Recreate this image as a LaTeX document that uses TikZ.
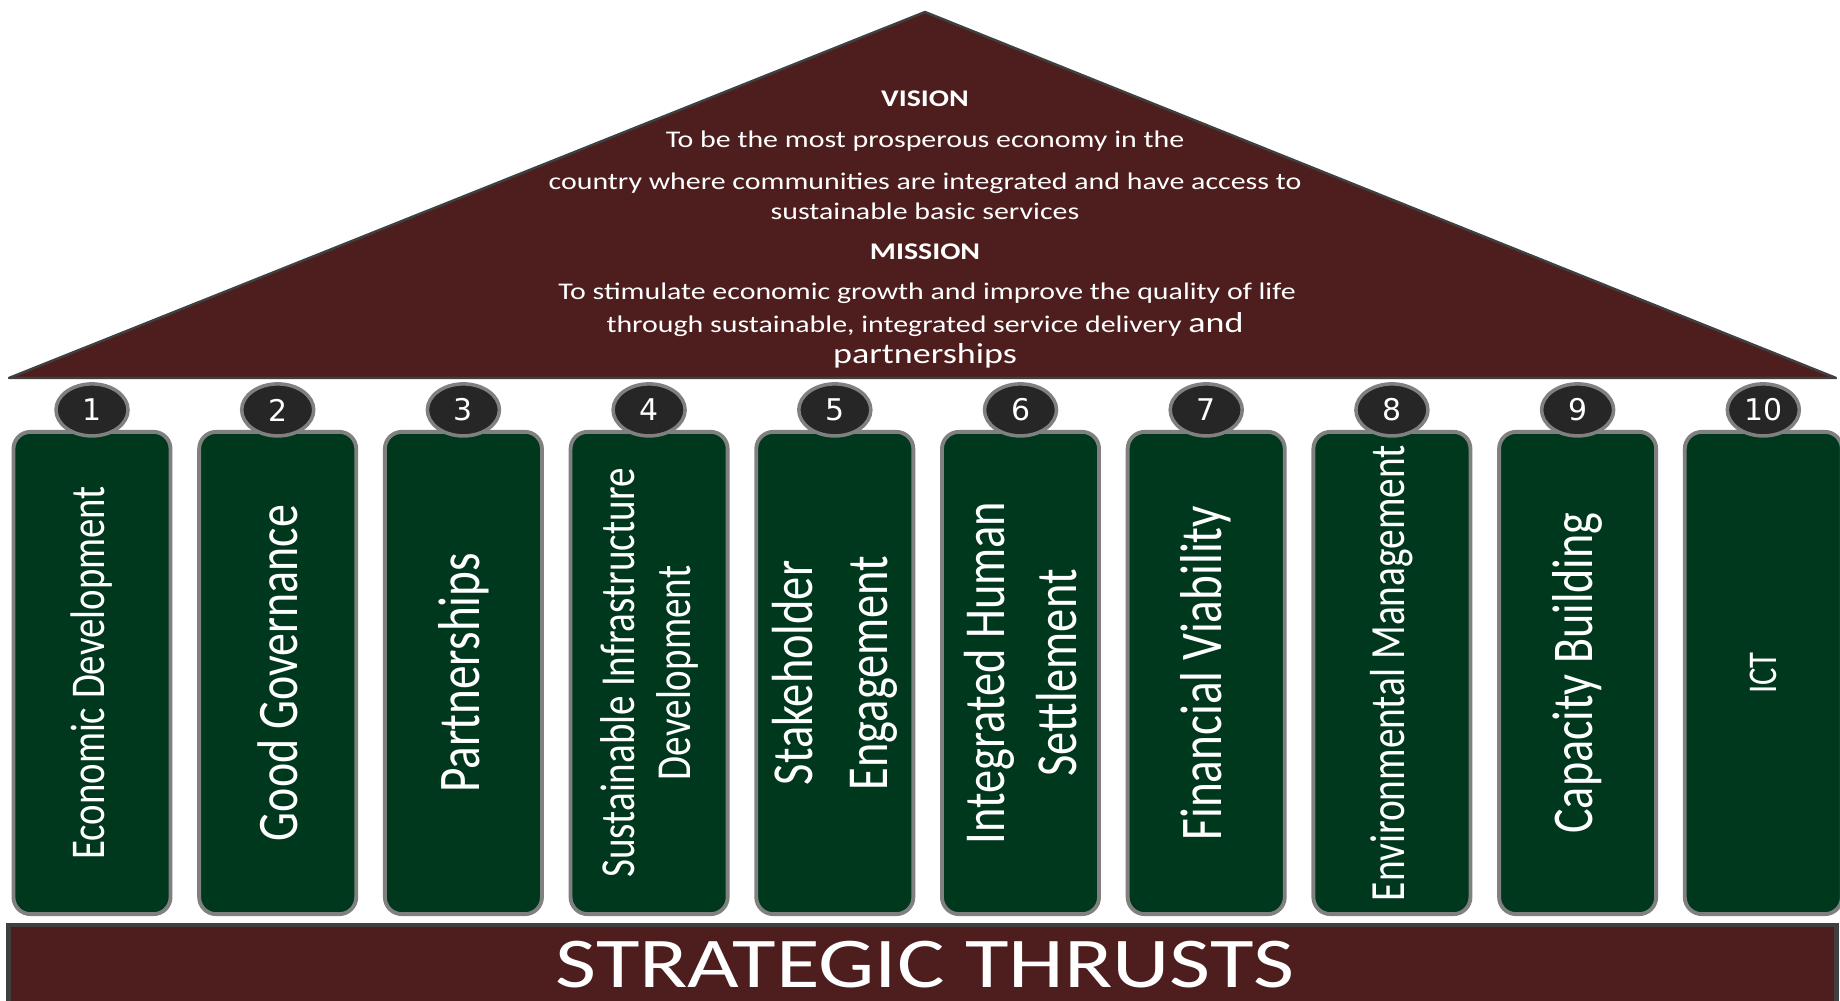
\documentclass[tikz,border=0pt]{standalone}
\usepackage{fontspec}
\setmainfont{Carlito}
\newfontfamily\widefont{Carlito}[FakeStretch=1.25]
\newfontfamily\narrowfont{Carlito}[FakeStretch=0.8]
\newfontfamily\numfont{DejaVu Sans}
\usetikzlibrary{shapes.geometric}
\definecolor{roofred}{RGB}{78,30,30}
\definecolor{pillargreen}{RGB}{0,56,29}
\definecolor{badgegray}{RGB}{38,38,38}
\definecolor{rimgray}{RGB}{128,128,128}
\definecolor{bargray}{RGB}{64,64,64}
\begin{document}
\begin{tikzpicture}[x=0.01cm,y=0.01cm,
    pillar/.style={draw=rimgray, line width=1.1pt, fill=pillargreen, rounded corners=0.17cm,
        minimum width=1.57cm, minimum height=4.82cm, inner sep=0pt},
    badge/.style={ellipse, draw=rimgray, line width=1pt, fill=badgegray, text=white,
        minimum width=0.72cm, minimum height=0.52cm, inner sep=0pt, font=\numfont\fontsize{8.5}{10}\selectfont},
    thrust/.style={text=white, rotate=90, align=center, inner sep=0pt},
    rooftext/.style={text=white, inner sep=0pt, font=\widefont\fontsize{6.8}{8}\selectfont},
    roofhead/.style={rooftext, font=\widefont\bfseries\fontsize{6.8}{8}\selectfont},
    bar/.style={draw=bargray, line width=1.2pt, fill=roofred,
        minimum width=18.27cm, minimum height=0.87cm, inner sep=0pt}]

    \useasboundingbox (0,0) rectangle (1840,1000);

    % roof
    \draw[fill=roofred, draw=bargray, line width=0.7pt, line join=round] (9,622)--(925,988)--(1836,622)-- cycle;
    \node[roofhead] (vision) at (925,901) {VISION};
    \node[rooftext] (vline1) at (925,859) {To be the most prosperous economy in the};
    \node[rooftext] (vline2) at (925,817) {country where communities are integrated and have access to};
    \node[rooftext] (vline3) at (925,789) {sustainable basic services};
    \node[roofhead] (mission) at (925,748) {MISSION};
    \node[rooftext] (mline1) at (927,707) {To stimulate economic growth and improve  the quality of life};
    \node[rooftext] (mline2) at (925,675) {through sustainable, integrated service delivery {\fontsize{8.2}{9}\selectfont and}};
    \node[rooftext, font=\widefont\fontsize{8.2}{9}\selectfont] (mline3) at (925,644) {partnerships};

    % pillars
    \foreach \i/\txt/\fs/\ls in {1/{Economic Development}/13.8/16,
                                 2/{Good Governance}/16.3/19,
                                 3/{Partnerships}/16.8/19,
                                 4/{Sustainable Infrastructure\\Development}/13.9/16,
                                 5/{Stakeholder\\Engagement}/16.5/21.5,
                                 6/{Integrated Human\\Settlement}/16.5/20.7,
                                 7/{Financial Viability}/16.8/19,
                                 8/{Environmental Management}/14/16,
                                 9/{Capacity Building}/16.4/19,
                                 10/{ICT}/11.6/14}{
        \node[pillar] (p\i) at ({92+185.7*(\i-1)},327) {};
        \node[thrust, font=\narrowfont\fontsize{\fs}{\ls}\selectfont] (t\i) at (p\i.center) {\txt};
        \node[badge] (b\i) at ([yshift=0.2cm]p\i.north) {\i};
    }

    % base
    \node[bar] (base) at (922.5,31.5) {};
    \node[text=white, inner sep=0pt, font=\widefont\fontsize{20.3}{24}\selectfont] (thrusts) at (925,35) {STRATEGIC THRUSTS};

\end{tikzpicture}
\end{document}
